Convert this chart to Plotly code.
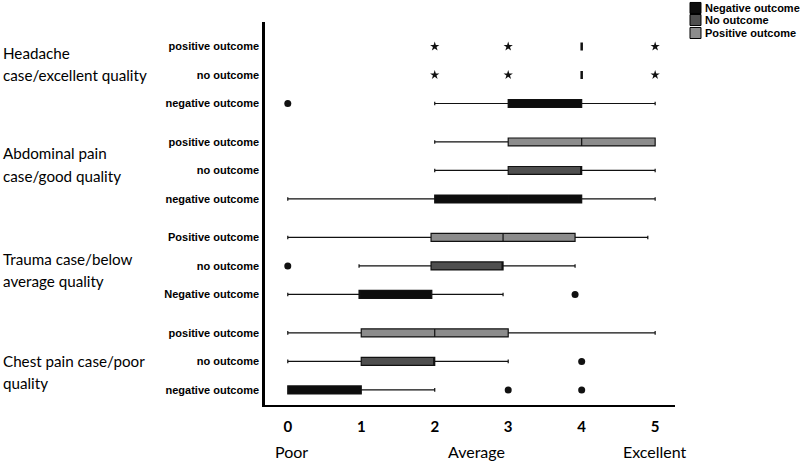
import plotly.graph_objects as go

# ---------------- data (rows listed bottom -> top) ----------------
group_lines = [["Chest pain case/poor", "quality"],
               ["Trauma case/below", "average quality"],
               ["Abdominal pain", "case/good quality"],
               ["Headache", "case/excellent quality"]]
outcomes = ["Negative outcome", "No outcome", "Positive outcome"]
outcome_colors = ["#0d0d0d", "#4f4f4f", "#8c8c8c"]

row_labels = ["negative outcome", "no outcome", "positive outcome",
              "Negative outcome", "no outcome", "Positive outcome",
              "negative outcome", "no outcome", "positive outcome",
              "negative outcome", "no outcome", "positive outcome"]
row_group = [0, 0, 0, 1, 1, 1, 2, 2, 2, 3, 3, 3]
row_outcome = [0, 1, 2, 0, 1, 2, 0, 1, 2, 0, 1, 2]

lowerfence = [0, 0, 0, 0, 0.97, 0, 0, 2, 2, 2, 4, 4]
q1 = [0, 1, 1, 0.97, 1.95, 1.95, 2, 3, 3, 3, 4, 4]
median = [0, 2, 2, 0.97, 2.93, 2.93, 3, 4, 4, 3, 4, 4]
q3 = [1, 2, 3, 1.96, 2.93, 3.91, 4, 4, 5, 4, 4, 4]
upperfence = [2, 3, 5, 2.93, 3.91, 4.9, 5, 5, 5, 5, 4, 4]

# outliers (circles): row index, value
outlier_rows = [0, 0, 1, 3, 4, 9]
outlier_vals = [3, 4, 4, 3.91, 0, 0]
# extreme values (stars): row index, value
extreme_rows = [10, 10, 10, 11, 11, 11]
extreme_vals = [2, 3, 5, 2, 3, 5]

x_ticks = [0, 1, 2, 3, 4, 5]
x_desc = ["Poor", "Average", "Excellent"]
x_desc_pos = [0.05, 2.57, 5.0]

GROUP_STEP = 3.35
group_label_mid = [0.63, 4.21, 7.91, 11.44]   # label placement (y units)
LINE_HALF = 0.39


def ypos(i):
    return row_group[i] * GROUP_STEP + row_outcome[i]


row_y = [ypos(i) for i in range(len(row_labels))]

fig = go.Figure()

for i in range(len(row_labels)):
    o = row_outcome[i]
    collapsed = q1[i] == q3[i]
    fig.add_trace(go.Box(
        orientation="h",
        y=[row_y[i]],
        q1=[q1[i]], median=[median[i]], q3=[q3[i]],
        lowerfence=[lowerfence[i]], upperfence=[upperfence[i]],
        fillcolor=outcome_colors[o],
        line=dict(color="#111111", width=2.5 if collapsed else 1.2),
        whiskerwidth=0.45,
        width=0.28,
        boxpoints=False,
        name=outcomes[o],
        showlegend=False,
        hoverinfo="skip",
    ))

fig.add_trace(go.Scatter(
    x=outlier_vals, y=[row_y[r] for r in outlier_rows], mode="markers",
    marker=dict(symbol="circle", size=7, color="#111111"),
    showlegend=False, hoverinfo="skip",
))
fig.add_trace(go.Scatter(
    x=extreme_vals, y=[row_y[r] for r in extreme_rows], mode="markers",
    marker=dict(symbol="star", size=7, color="#111111"),
    showlegend=False, hoverinfo="skip",
))

annotations = []
shapes = []
for g in range(4):
    mid = group_label_mid[g]
    for k, dy in enumerate([LINE_HALF, -LINE_HALF]):
        annotations.append(dict(
            xref="paper", yref="y", x=-0.644, y=mid + dy,
            xanchor="left", yanchor="middle", showarrow=False, align="left",
            text=group_lines[g][k],
            font=dict(family="Lato", size=15.2, color="#000000"),
        ))
for t, xp in zip(x_desc, x_desc_pos):
    annotations.append(dict(
        xref="x", yref="paper", x=xp, y=-0.122,
        xanchor="center", yanchor="middle", showarrow=False,
        text=t, font=dict(family="Lato", size=16, color="#000000"),
    ))

# hand-built legend (compact, like the reference)
leg_y = [1.0366, 1.0052, 0.9713]
for o in range(3):
    shapes.append(dict(
        type="rect", xref="paper", yref="paper",
        x0=1.0366, x1=1.0634, y0=leg_y[o] - 0.0144, y1=leg_y[o] + 0.0144,
        fillcolor=outcome_colors[o], line=dict(color="#000000", width=1),
    ))
    annotations.append(dict(
        xref="paper", yref="paper", x=1.068, y=leg_y[o],
        xanchor="left", yanchor="middle", showarrow=False,
        text=outcomes[o],
        font=dict(family="Liberation Sans", size=11, color="#000000", weight="bold"),
    ))

fig.update_layout(
    width=800, height=462,
    margin=dict(l=265, r=125, t=22, b=57, autoexpand=False),
    paper_bgcolor="white", plot_bgcolor="white",
    showlegend=False,
    hovermode=False,
    annotations=annotations,
    shapes=shapes,
)
fig.update_xaxes(
    range=[-0.31, 5.27], tickvals=x_ticks, ticktext=[str(v) for v in x_ticks],
    showgrid=False, zeroline=False, showline=True, linecolor="#000000", linewidth=2,
    ticks="", ticklabelstandoff=7,
    tickfont=dict(family="Lato", size=15, color="#000000", weight="bold"),
)
fig.update_yaxes(
    range=[-0.53, 12.91], tickvals=row_y, ticktext=row_labels,
    showgrid=False, zeroline=False, showline=True, linecolor="#000000", linewidth=2.5,
    ticks="", ticklabelstandoff=1,
    tickfont=dict(family="Liberation Sans", size=11, color="#000000", weight="bold"),
)

fig.write_html("out.html",
               config={"displayModeBar": False},
               post_script="document.body.style.margin='0';document.body.style.overflow='hidden';")
